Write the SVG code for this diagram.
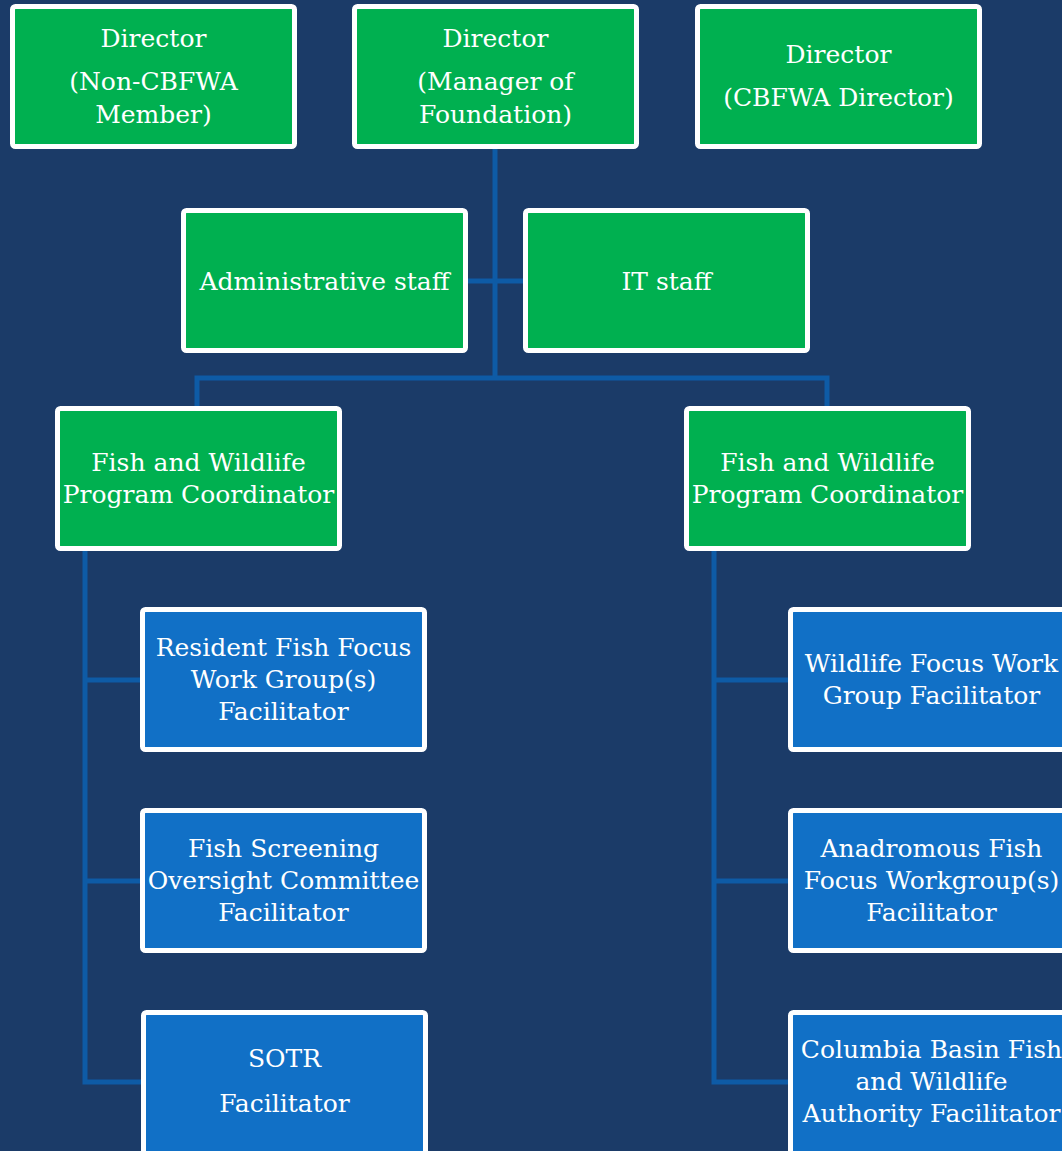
<svg xmlns="http://www.w3.org/2000/svg" width="1062" height="1151" viewBox="0 0 1062 1151">
<style>
.bg{fill:#1b3b68}
.g{fill:#00b050;stroke:#fff;stroke-width:5}
.b{fill:#1170c6;stroke:#fff;stroke-width:5}
.c{fill:none;stroke:#0e5ba6;stroke-width:5;stroke-linejoin:miter}
text{font-family:"DejaVu Serif","Liberation Serif",serif;font-size:25px;fill:#fff;text-anchor:middle}
</style>
<rect class="bg" x="0" y="0" width="1062" height="1151"/>
<g id="connectors">
<path class="c" d="M495,149 V378 M468,281 H523 M197,406 V378 H827 V406"/>
<path class="c" d="M85,551 V1082 H141 M85,680 H141 M85,881 H141"/>
<path class="c" d="M714,551 V1082 H788 M714,680 H788 M714,881 H788"/>
</g>
<g id="director1"><rect class="g" x="12.5" y="6.5" width="282" height="140" rx="3"/><text x="153.5" y="47">Director</text><text x="153.5" y="90">(Non-CBFWA</text><text x="153.5" y="123">Member)</text></g>
<g id="director2"><rect class="g" x="354.5" y="6.5" width="282" height="140" rx="3"/><text x="495.5" y="47">Director</text><text x="495.5" y="90">(Manager of</text><text x="495.5" y="123">Foundation)</text></g>
<g id="director3"><rect class="g" x="697.5" y="6.5" width="282" height="140" rx="3"/><text x="838.5" y="63">Director</text><text x="838.5" y="106">(CBFWA Director)</text></g>
<g id="admin"><rect class="g" x="183.5" y="210.5" width="282" height="140" rx="3"/><text x="324.5" y="290">Administrative staff</text></g>
<g id="it"><rect class="g" x="525.5" y="210.5" width="282" height="140" rx="3"/><text x="666.5" y="290">IT staff</text></g>
<g id="coord-left"><rect class="g" x="57.5" y="408.5" width="282" height="140" rx="3"/><text x="198.5" y="471">Fish and Wildlife</text><text x="198.5" y="503">Program Coordinator</text></g>
<g id="coord-right"><rect class="g" x="686.5" y="408.5" width="282" height="140" rx="3"/><text x="827.5" y="471">Fish and Wildlife</text><text x="827.5" y="503">Program Coordinator</text></g>
<g id="resident"><rect class="b" x="142.5" y="609.5" width="282" height="140" rx="3"/><text x="283.5" y="656">Resident Fish Focus</text><text x="283.5" y="688">Work Group(s)</text><text x="283.5" y="720">Facilitator</text></g>
<g id="screening"><rect class="b" x="142.5" y="810.5" width="282" height="140" rx="3"/><text x="283.5" y="857">Fish Screening</text><text x="283.5" y="889">Oversight Committee</text><text x="283.5" y="921">Facilitator</text></g>
<g id="sotr"><rect class="b" x="143.5" y="1012.5" width="282" height="150" rx="3"/><text x="284.5" y="1067">SOTR</text><text x="284.5" y="1112">Facilitator</text></g>
<g id="wildlife"><rect class="b" x="790.5" y="609.5" width="282" height="140" rx="3"/><text x="931.5" y="672">Wildlife Focus Work</text><text x="931.5" y="704">Group Facilitator</text></g>
<g id="anadromous"><rect class="b" x="790.5" y="810.5" width="282" height="140" rx="3"/><text x="931.5" y="857">Anadromous Fish</text><text x="931.5" y="889">Focus Workgroup(s)</text><text x="931.5" y="921">Facilitator</text></g>
<g id="cbfwa"><rect class="b" x="790.5" y="1012.5" width="282" height="150" rx="3"/><text x="931.5" y="1058">Columbia Basin Fish</text><text x="931.5" y="1090">and Wildlife</text><text x="931.5" y="1122">Authority Facilitator</text></g>
</svg>
